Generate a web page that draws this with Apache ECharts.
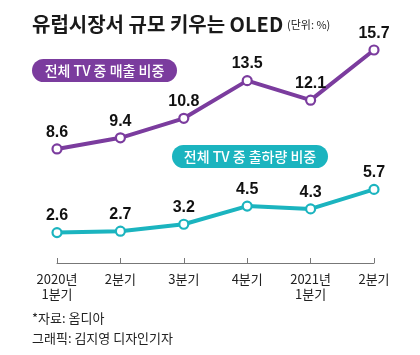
<!DOCTYPE html>
<html>
<head>
<meta charset="utf-8">
<script src="https://cdn.jsdelivr.net/npm/echarts@6/dist/echarts.min.js"></script>
<style>html,body{margin:0;padding:0;background:#fff;}#c{width:420px;height:355px;}</style>
</head>
<body>
<div id="c"></div>
<script>
const categories = ['2020년\n1분기', '2분기', '3분기', '4분기', '2021년\n1분기', '2분기'];
const salesShare = [8.6, 9.4, 10.8, 13.5, 12.1, 15.7];
const shipmentShare = [2.6, 2.7, 3.2, 4.5, 4.3, 5.7];
const salesName = '전체 TV 중 매출 비중';
const shipName = '전체 TV 중 출하량 비중';
const titleText = '유럽시장서 규모 키우는 OLED';
const unitText = '(단위: %)';
const sourceText = '*자료: 옴디아';
const creditText = '그래픽: 김지영 디자인기자';

const KR = '"Noto Sans CJK KR", "Noto Sans", sans-serif';
const NUM = '"Liberation Sans Narrow", "Liberation Sans", Arial, sans-serif';
const PURPLE = '#7b3c9e';
const TEAL = '#1bb4bf';

const chart = echarts.init(document.getElementById('c'));
function lineSeries(name, data, color) {
  return {
    name: name, type: 'line', data: data,
    symbol: 'circle', symbolSize: 9,
    itemStyle: { color: '#fff', borderColor: color, borderWidth: 2.2 },
    lineStyle: { color: color, width: 4 },
    label: { show: true, position: 'top', distance: 3, color: '#111',
      fontFamily: NUM, fontWeight: 'bold', fontSize: 16 },
    emphasis: { disabled: true },
    z: 3
  };
}
chart.setOption({
  animation: false,
  grid: { left: 57, right: 46, top: 45.8, bottom: 92 },
  xAxis: {
    type: 'category', data: categories, boundaryGap: false,
    axisLine: { lineStyle: { color: '#777', width: 1 } },
    axisTick: { inside: true, length: 5, lineStyle: { color: '#777' } },
    axisLabel: { color: '#222', fontFamily: KR, fontSize: 13, lineHeight: 15, margin: 9 }
  },
  yAxis: { type: 'value', min: 0.42, max: 16, show: false, splitLine: { show: false } },
  series: [lineSeries(salesName, salesShare, PURPLE), lineSeries(shipName, shipmentShare, TEAL)],
  graphic: [
    { type: 'text', left: 32, top: 14, style: { text: titleText, font: 'bold 20px ' + KR, fill: '#1a1a1a' } },
    { type: 'text', left: 287, top: 19, style: { text: unitText, font: '11px ' + KR, fill: '#222' } },
    { type: 'group', left: 32, top: 59, children: [
      { type: 'rect', shape: { x: 0, y: 0, width: 145, height: 23, r: 11.5 }, style: { fill: PURPLE } },
      { type: 'text', x: 72.5, y: 11.5, style: { text: salesName, font: '500 14px ' + KR, fill: '#fff', align: 'center', verticalAlign: 'middle' } }
    ]},
    { type: 'group', left: 172, top: 145, children: [
      { type: 'rect', shape: { x: 0, y: 0, width: 156, height: 23, r: 11.5 }, style: { fill: TEAL } },
      { type: 'text', x: 78, y: 11.5, style: { text: shipName, font: '500 14px ' + KR, fill: '#fff', align: 'center', verticalAlign: 'middle' } }
    ]},
    { type: 'text', left: 32, top: 312, style: { text: sourceText, font: '13px ' + KR, fill: '#222' } },
    { type: 'text', left: 32, top: 332, style: { text: creditText, font: '13px ' + KR, fill: '#222' } }
  ]
});
</script>
</body>
</html>
